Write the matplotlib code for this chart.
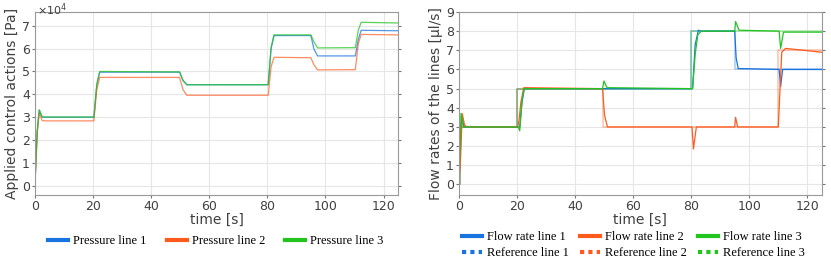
import numpy as np
import matplotlib
matplotlib.use("Agg")
import matplotlib.pyplot as plt
from matplotlib.lines import Line2D
from matplotlib.ticker import FuncFormatter

# pressures (in units of 1e4 Pa)
t_p = [0, 0.8, 1.5, 2.5, 3.5, 20.3, 21.3, 22.3, 49.8, 51.0, 52.3, 80.3, 81.3, 82.3,
       95.0, 96.0, 97.3, 110.3, 111.3, 112.3, 125]
p1 = [0, 2.4, 3.3, 3.0, 3.0, 3.0, 4.4, 4.97, 4.97, 4.6, 4.42, 4.42, 6.0, 6.57,
      6.57, 6.0, 5.68, 5.68, 6.4, 6.8, 6.78]
p2 = [0, 2.3, 3.2, 2.85, 2.84, 2.84, 4.2, 4.74, 4.74, 4.2, 3.96, 3.96, 5.2, 5.62,
      5.6, 5.3, 5.07, 5.08, 6.2, 6.62, 6.6]
p3 = [0, 2.4, 3.33, 3.02, 3.01, 3.01, 4.45, 5.0, 4.98, 4.6, 4.42, 4.42, 6.05, 6.6,
      6.6, 6.3, 6.03, 6.04, 6.8, 7.15, 7.12]

# measured flow rates [ul/s]
t_f1 = [0, 0.5, 1.0, 1.8, 2.5, 21.0, 21.8, 22.6, 80.5, 81.4, 82.5, 83.2, 95.0, 95.5,
        96.2, 110.3, 110.8, 111.5, 125]
f1 = [0, 1.5, 3.6, 3.0, 3.0, 3.0, 4.3, 5.0, 5.0, 7.3, 8.05, 8.0, 8.0, 6.6,
      6.05, 6.0, 5.1, 6.0, 6.0]
t_f2 = [0, 0.6, 1.2, 2.0, 2.7, 20.3, 20.8, 21.4, 22.4, 49.5, 50.2, 51.2, 80.3, 80.8,
        81.8, 95.0, 95.3, 96.0, 110.0, 110.6, 111.2, 112.5, 125]
f2 = [0, 1.2, 3.7, 3.1, 3.0, 3.0, 3.4, 4.3, 5.05, 5.0, 3.6, 3.0, 3.0, 1.85,
      3.0, 3.0, 3.5, 3.0, 3.0, 5.0, 6.9, 7.1, 6.9]
t_f3 = [0, 0.4, 0.8, 1.6, 2.4, 20.5, 21.0, 21.8, 22.5, 49.5, 50.0, 51.0, 80.5, 81.4,
        82.3, 83.5, 95.0, 95.3, 96.5, 110.3, 110.8, 111.8, 125]
f3 = [0, 1.6, 3.7, 3.0, 3.0, 3.0, 2.8, 4.4, 5.0, 5.0, 5.4, 5.05, 5.0, 6.8,
      7.8, 8.0, 8.0, 8.5, 8.05, 8.0, 7.1, 7.95, 7.95]

# reference steps
t_r = [0, 0.4, 20.0, 49.5, 80.0, 95.0, 110.0, 125]
r1 = [0, 3, 5, 5, 8, 6, 6, 6]
r2 = [0, 3, 5, 3, 3, 3, 7, 7]
r3 = [0, 3, 5, 5, 8, 8, 8, 8]

blue = "#1a74e0"
orange = "#ff5a1e"
green = "#22c41e"
txt = "#404040"
serif = ["Liberation Serif", "DejaVu Serif"]

plt.rcParams["font.family"] = "DejaVu Sans"
plt.rcParams["axes.edgecolor"] = "#999999"
plt.rcParams["xtick.color"] = "#777777"
plt.rcParams["ytick.color"] = "#777777"
plt.rcParams["xtick.labelcolor"] = txt
plt.rcParams["ytick.labelcolor"] = txt

fig = plt.figure(figsize=(8.31, 2.61), dpi=100)
ax1 = fig.add_axes([0.042, 0.253, 0.437, 0.701])
ax2 = fig.add_axes([0.552, 0.253, 0.437, 0.701])

for ax in (ax1, ax2):
    ax.grid(True, color="#e6e6e6", linewidth=0.8)
    ax.set_axisbelow(True)
    ax.tick_params(labelsize=9, length=2, pad=1.5, right=True)
    ax.set_xlim(0, 125)
    ax.set_xticks([0, 20, 40, 60, 80, 100, 120])
    ax.set_xlabel("time [s]", fontsize=10, color=txt, labelpad=0)

# left plot
ax1.plot(t_p, np.array(p1) * 1e4, color=blue, lw=0.9, alpha=0.75)
ax1.plot(t_p, np.array(p2) * 1e4, color=orange, lw=0.9, alpha=0.7)
ax1.plot(t_p, np.array(p3) * 1e4, color=green, lw=0.9, alpha=0.75)
ax1.set_ylim(-0.4e4, 7.6e4)
ax1.set_yticks(np.arange(0, 8) * 1e4)
ax1.yaxis.set_major_formatter(FuncFormatter(lambda v, pos: "%d" % round(v / 1e4)))
fig.text(0.044, 0.993, r"$\times10^{4}$", fontsize=8, color=txt, va="top")
ax1.set_ylabel("Applied control actions [Pa]", fontsize=10, color=txt, labelpad=2)

# right plot
ax2.step(t_r, r1, where="post", color=blue, lw=1.2, alpha=0.35)
ax2.step(t_r, r2, where="post", color=orange, lw=1.2, alpha=0.35)
ax2.step(t_r, r3, where="post", color=green, lw=1.2, alpha=0.35)
ax2.plot(t_f1, f1, color=blue, lw=0.9)
ax2.plot(t_f2, f2, color=orange, lw=0.9)
ax2.plot(t_f3, f3, color=green, lw=0.9)
ax2.set_ylim(-0.55, 9)
ax2.set_yticks(range(0, 10))
ax2.set_ylabel("Flow rates of the lines [µl/s]", fontsize=10, color=txt, labelpad=2)

# legends
h1 = [Line2D([], [], color=c, lw=3) for c in (blue, orange, green)]
fig.legend(h1, ["Pressure line 1", "Pressure line 2", "Pressure line 3"],
           loc="center", bbox_to_anchor=(0.26, 0.075), ncol=3, frameon=False,
           prop={"family": serif, "size": 9}, handlelength=1.6, columnspacing=1.6,
           handletextpad=0.4)

h2 = [Line2D([], [], color=c, lw=3) for c in (blue, orange, green)]
h2 += [Line2D([], [], color=c, lw=3, ls=(0, (1, 1))) for c in (blue, orange, green)]
lab2 = ["Flow rate line 1", "Flow rate line 2", "Flow rate line 3",
        "Reference line 1", "Reference line 2", "Reference line 3"]
# reorder for row-wise filling in 3 columns
order = [0, 3, 1, 4, 2, 5]
fig.legend([h2[i] for i in order], [lab2[i] for i in order],
           loc="center", bbox_to_anchor=(0.762, 0.06), ncol=3, frameon=False,
           prop={"family": serif, "size": 9}, handlelength=1.6, columnspacing=0.9,
           handletextpad=0.4, labelspacing=0.3)

fig.savefig("out.png", dpi=100)
